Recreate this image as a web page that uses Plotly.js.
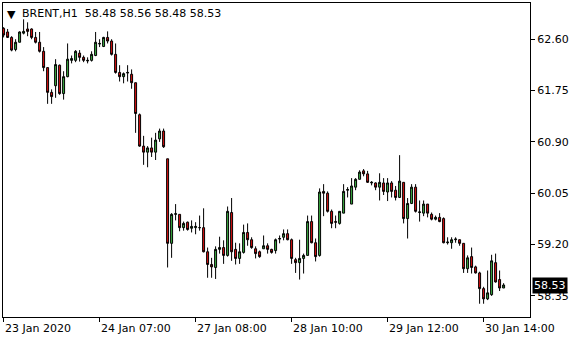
<!DOCTYPE html>
<html>
<head>
<meta charset="utf-8">
<script src="https://cdn.plot.ly/plotly-3.0.1.min.js"></script>
<style>html,body{margin:0;padding:0;background:#fff;}#chart{width:580px;height:340px;}</style>
</head>
<body>
<div id="chart"></div>
<script>
const symbolTitle = "BRENT,H1";
const lastQuote = ["58.48", "58.56", "58.48", "58.53"];

const open = [62.78,62.72,62.63,62.43,62.55,62.70,62.77,62.77,62.63,62.55,
62.40,62.13,61.72,61.83,62.17,61.70,61.98,62.25,62.25,62.37,
62.30,62.24,62.25,62.33,62.52,62.48,62.63,62.57,62.35,62.05,
61.98,62.04,62.02,61.88,61.35,60.83,60.73,60.80,60.73,60.95,
61.08,60.62,59.22,59.70,59.70,59.48,59.57,59.47,59.48,59.48,
59.48,59.08,58.87,58.82,59.12,59.15,59.02,59.73,59.12,58.97,
59.07,59.40,59.28,59.13,59.08,59.13,59.18,59.12,59.10,59.29,
59.32,59.38,59.28,58.95,58.90,58.97,59.02,59.58,59.23,59.02,
60.08,60.05,59.75,59.58,59.55,59.72,60.10,59.87,60.15,60.28,
60.42,60.37,60.22,60.22,60.15,60.22,60.07,60.22,60.10,59.98,
60.23,59.63,59.88,60.15,59.73,59.72,59.87,59.70,59.62,59.65,
59.63,59.23,59.23,59.28,59.28,59.22,58.80,59.00,58.83,58.73,
58.47,58.30,58.37,58.90,58.62,58.48];

const high = [62.80,62.77,62.65,62.60,62.73,62.93,62.88,62.78,62.72,62.72,
62.47,62.13,61.77,62.27,62.18,62.07,62.53,62.33,62.42,62.42,
62.33,62.30,62.40,62.72,62.60,62.64,62.73,62.60,62.53,62.17,
62.05,62.17,62.10,61.88,61.37,61.00,60.83,60.97,61.05,61.12,
61.12,60.62,59.72,59.87,59.70,59.58,59.58,59.60,59.57,59.68,
59.80,59.15,58.98,59.17,59.33,59.27,59.83,59.97,59.23,59.22,
59.53,59.55,59.32,59.17,59.10,59.35,59.22,59.13,59.30,59.35,
59.45,59.45,59.30,58.98,59.28,59.05,59.68,59.68,59.30,60.13,
60.20,60.08,59.78,59.68,59.75,60.20,60.15,60.30,60.30,60.43,
60.45,60.42,60.25,60.23,60.38,60.30,60.30,60.25,60.17,60.68,
60.23,59.97,60.20,60.20,59.93,59.93,59.87,59.73,59.68,59.72,
59.65,59.32,59.32,59.32,59.28,59.22,59.02,59.15,58.85,58.75,
58.50,58.77,59.03,59.05,58.77,58.56];

const low = [62.63,62.62,62.40,62.40,62.55,62.68,62.65,62.60,62.53,62.38,
62.07,61.53,61.53,61.63,61.68,61.60,61.97,62.20,62.22,62.23,
62.22,62.20,62.23,62.32,62.47,62.47,62.53,62.33,62.03,61.90,
61.87,61.90,61.78,61.05,60.82,60.52,60.48,60.65,60.60,60.90,
60.80,58.82,58.98,59.60,59.42,59.43,59.43,59.40,59.37,59.43,
59.07,58.65,58.65,58.63,59.05,58.88,59.00,58.93,58.87,58.88,
59.05,59.18,59.13,58.97,58.98,59.13,59.05,59.05,59.05,59.22,
59.27,59.27,58.88,58.73,58.62,58.72,59.02,59.22,58.92,59.00,
59.67,59.73,59.47,59.47,59.53,59.72,59.98,59.87,60.10,60.28,
60.33,60.22,60.18,60.10,59.93,60.02,59.92,59.98,59.93,59.97,
59.55,59.30,59.87,59.73,59.58,59.67,59.65,59.60,59.60,59.57,
59.22,59.20,59.13,59.23,59.18,58.73,58.73,58.72,58.72,58.22,
58.22,58.28,58.35,58.57,58.43,58.48];

const close = [62.67,62.63,62.42,62.55,62.72,62.73,62.73,62.63,62.55,62.40,
62.13,61.72,61.65,62.18,61.70,61.98,62.27,62.28,62.40,62.30,
62.25,62.25,62.35,62.55,62.53,62.63,62.57,62.35,62.05,61.98,
62.03,62.05,61.88,61.37,60.83,60.73,60.80,60.73,60.93,61.08,
60.82,59.22,59.70,59.71,59.48,59.55,59.45,59.50,59.50,59.48,
59.08,58.87,58.83,59.12,59.15,59.02,59.75,59.08,58.97,59.08,
59.40,59.28,59.15,59.05,59.00,59.18,59.12,59.07,59.28,59.30,
59.38,59.28,58.97,58.90,58.97,59.02,59.58,59.23,59.00,60.07,
60.05,59.75,59.55,59.57,59.75,60.08,60.11,60.17,60.28,60.40,
60.37,60.23,60.23,60.15,60.23,60.08,60.22,60.08,59.98,60.25,
59.63,59.88,60.15,59.75,59.74,59.87,59.72,59.62,59.65,59.58,
59.23,59.24,59.28,59.29,59.22,58.80,58.98,58.82,58.73,58.47,
58.30,58.40,58.93,58.58,58.48,58.53];

const timeTickBars = [0, 24, 48, 72, 96, 120];
const timeTickLabels = ["23 Jan 2020", "24 Jan 07:00", "27 Jan 08:00", "28 Jan 10:00", "29 Jan 12:00", "30 Jan 14:00"];
const priceTicks = [58.35, 59.20, 60.05, 60.90, 61.75, 62.60];
const priceTickLabels = ["58.35", "59.20", "60.05", "60.90", "61.75", "62.60"];
const currentPrice = 58.53;

const bars = open.map((_, i) => i);
const FONT = "DejaVu Sans, Verdana, sans-serif";

const trace = {
  type: "candlestick",
  x: bars, open: open, high: high, low: low, close: close,
  increasing: {line: {color: "#000000", width: 1}, fillcolor: "#3cb043"},
  decreasing: {line: {color: "#000000", width: 1}, fillcolor: "#dd1010"},
  whiskerwidth: 0,
  hoverinfo: "skip",
  showlegend: false
};

const annotations = timeTickBars.map((b, k) => ({
  x: b, xref: "x", y: 0, yref: "paper",
  text: timeTickLabels[k], showarrow: false,
  xanchor: "left", yanchor: "top", xshift: -1, yshift: -3,
  font: {family: FONT, size: 11, color: "#000"}
}));
annotations.push({
  x: 0, xref: "paper", y: 1, yref: "paper",
  text: "▼", showarrow: false, xanchor: "left", yanchor: "top",
  xshift: 2, yshift: -3,
  font: {family: FONT, size: 11, color: "#000"}
});
annotations.push({
  x: 0, xref: "paper", y: 1, yref: "paper",
  text: symbolTitle + "  " + lastQuote.join(" "), showarrow: false,
  xanchor: "left", yanchor: "top", xshift: 17, yshift: -2,
  font: {family: FONT, size: 11, color: "#000"}
});
annotations.push({
  x: 1, xref: "paper", y: currentPrice, yref: "y",
  text: currentPrice.toFixed(2), showarrow: false,
  xanchor: "left", yanchor: "middle", xshift: 2,
  bgcolor: "#000", borderpad: 1,
  font: {family: FONT, size: 11, color: "#fff"}
});

const layout = {
  width: 580, height: 340,
  margin: {l: 3, r: 50, t: 3, b: 23, pad: 0},
  paper_bgcolor: "#fff", plot_bgcolor: "#fff",
  showlegend: false,
  xaxis: {
    range: [-0.15, 131.6], showgrid: false, zeroline: false,
    showline: true, mirror: true, linecolor: "#000", linewidth: 1,
    tickmode: "array", tickvals: timeTickBars, showticklabels: false,
    ticks: "outside", ticklen: 4, tickcolor: "#000", tickwidth: 1,
    rangeslider: {visible: false}, fixedrange: true
  },
  yaxis: {
    side: "right", range: [58.0, 63.2], showgrid: false, zeroline: false,
    showline: true, mirror: true, linecolor: "#000", linewidth: 1,
    tickmode: "array", tickvals: priceTicks, ticktext: priceTickLabels,
    ticks: "outside", ticklen: 4, tickcolor: "#000", tickwidth: 1,
    tickfont: {family: FONT, size: 11, color: "#000"}, fixedrange: true
  },
  annotations: annotations
};

Plotly.newPlot("chart", [trace], layout, {displayModeBar: false, staticPlot: true});
</script>
</body>
</html>
